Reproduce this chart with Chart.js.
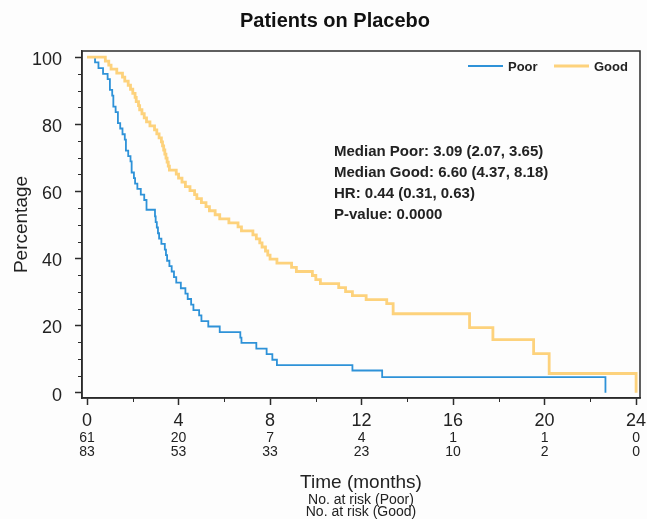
<!DOCTYPE html>
<html>
<head>
<meta charset="utf-8">
<title>Patients on Placebo</title>
<script src="https://cdn.jsdelivr.net/npm/chart.js@4.4.1/dist/chart.umd.min.js"></script>
<style>
  body { margin: 0; background: #fdfdfd; }
  #km { display: block; }
</style>
</head>
<body>
<canvas id="km" width="647" height="519"></canvas>
<script>
// Kaplan-Meier steps: time (months) of each drop, percentage after it
const poorTime = [0, 0.35, 0.5, 0.7, 0.9, 1.0, 1.1, 1.15, 1.25, 1.35, 1.45, 1.55, 1.65, 1.7, 1.8, 1.9, 1.95, 2.05, 2.1, 2.2, 2.35, 2.5, 2.6, 2.97, 3.0, 3.05, 3.1, 3.15, 3.25, 3.4, 3.45, 3.5, 3.6, 3.7, 3.8, 3.9, 4.1, 4.3, 4.4, 4.55, 4.65, 4.9, 5.0, 5.3, 5.8, 6.7, 6.75, 7.4, 7.85, 8.1, 8.3, 11.6, 12.9, 22.66];
const poorSurv = [100, 98.4, 96.7, 95, 93.4, 90.2, 88.5, 85.2, 83.6, 80.3, 78.7, 77, 75.4, 72.1, 70.5, 68.9, 65.6, 63.9, 62.3, 60.7, 59, 57.4, 54.5, 52.5, 50.8, 49.2, 47.5, 45.9, 44.3, 42.6, 41, 39.3, 37.7, 36.1, 34.4, 32.8, 31.1, 29.5, 27.9, 26.2, 24.6, 23, 21.3, 19.7, 18, 16.4, 14.8, 13.1, 11.5, 9.8, 8.2, 6.6, 4.6, 0];

const goodTime = [0, 0.8, 0.95, 1.05, 1.3, 1.55, 1.65, 1.8, 1.9, 2.0, 2.1, 2.15, 2.25, 2.3, 2.4, 2.5, 2.6, 2.75, 2.95, 3.05, 3.15, 3.25, 3.3, 3.35, 3.4, 3.45, 3.5, 3.55, 3.6, 3.9, 4.0, 4.15, 4.3, 4.5, 4.7, 4.8, 5.0, 5.2, 5.35, 5.6, 5.8, 6.2, 6.6, 6.75, 7.25, 7.4, 7.55, 7.65, 7.8, 7.9, 8.0, 8.3, 8.94, 9.15, 9.85, 10.0, 10.2, 11.0, 11.3, 11.6, 12.2, 13.1, 13.38, 16.72, 17.74, 19.52, 20.2, 24.0];
const goodSurv = [100, 98.8, 97.6, 96.4, 95.2, 94, 92.8, 91.6, 90.4, 89.2, 88, 86.7, 85.5, 84.3, 83.1, 81.9, 80.7, 79.5, 78.3, 77.1, 75.9, 74.7, 73.5, 72.3, 71.1, 69.9, 68.7, 67.5, 66.3, 65.1, 63.9, 62.7, 61.4, 60.2, 59, 57.8, 56.6, 55.4, 54.2, 53, 51.8, 50.6, 49.4, 48.2, 47, 45.8, 44.6, 43.4, 42.2, 41, 39.8, 38.6, 37.3, 36.1, 34.9, 33.7, 32.5, 31.3, 30.1, 28.9, 27.7, 26.5, 23.5, 19.4, 15.8, 11.6, 5.7, 0];

const seriesNames = ["Poor", "Good"];
const xTicks = [0, 4, 8, 12, 16, 20, 24];
const xMinor = [2, 6, 10, 14, 18, 22];
const yMinor = [5, 10, 15, 25, 30, 35, 45, 50, 55, 65, 70, 75, 85, 90, 95];
const poorRisk = [61, 20, 7, 4, 1, 1, 0];
const goodRisk = [83, 53, 33, 23, 10, 2, 0];
const statsLines = [
  "Median Poor: 3.09 (2.07, 3.65)",
  "Median Good: 6.60 (4.37, 8.18)",
  "HR: 0.44 (0.31, 0.63)",
  "P-value: 0.0000"
];

const FONT = "'Liberation Sans', Arial, sans-serif";
const INK = "#222";
const AXIS = "#2b2b2b";
const BLUE = "#2e92d8";
const YELLOW = "#fdd27c";

function toPoints(times, values) {
  return times.map(function (t, i) { return { x: t, y: values[i] }; });
}

const kmExtras = {
  id: "kmExtras",
  afterDraw(chart) {
    const ctx = chart.ctx;
    const area = chart.chartArea;
    const xs = chart.scales.x;
    const ys = chart.scales.y;
    ctx.save();

    // box round the plot
    ctx.strokeStyle = AXIS;
    ctx.lineWidth = 1.5;
    ctx.strokeRect(area.left, area.top, area.right - area.left, area.bottom - area.top);

    // minor ticks
    ctx.lineWidth = 1;
    ctx.beginPath();
    xMinor.forEach(function (v) {
      const px = Math.round(xs.getPixelForValue(v)) + 0.5;
      ctx.moveTo(px, area.bottom);
      ctx.lineTo(px, area.bottom + 4);
    });
    yMinor.forEach(function (v) {
      const py = Math.round(ys.getPixelForValue(v)) + 0.5;
      ctx.moveTo(area.left - 4, py);
      ctx.lineTo(area.left, py);
    });
    ctx.stroke();

    // numbers at risk under the ticks
    ctx.fillStyle = INK;
    ctx.font = "14px " + FONT;
    ctx.textAlign = "center";
    ctx.textBaseline = "middle";
    xTicks.forEach(function (t, i) {
      const px = xs.getPixelForValue(t);
      ctx.fillText(String(poorRisk[i]), px, area.bottom + 40);
      ctx.fillText(String(goodRisk[i]), px, area.bottom + 54);
    });
    const mid = (area.left + area.right) / 2;
    ctx.fillText("No. at risk (" + seriesNames[0] + ")", mid, area.bottom + 102);
    ctx.fillText("No. at risk (" + seriesNames[1] + ")", mid, area.bottom + 114.5);

    // legend, top right inside the box
    ctx.font = "bold 13px " + FONT;
    ctx.textAlign = "left";
    const ly = area.top + 15;
    const colors = [BLUE, YELLOW];
    const lx = [area.right - 172, area.right - 86];
    seriesNames.forEach(function (name, i) {
      ctx.strokeStyle = colors[i];
      ctx.lineWidth = i === 0 ? 1.8 : 2.8;
      ctx.beginPath();
      ctx.moveTo(lx[i], ly);
      ctx.lineTo(lx[i] + 35, ly);
      ctx.stroke();
      ctx.fillStyle = INK;
      ctx.fillText(name, lx[i] + 40, ly + 1);
    });

    // summary statistics
    ctx.font = "bold 15px " + FONT;
    statsLines.forEach(function (line, i) {
      ctx.fillText(line, area.left + 252, area.top + 101 + i * 21);
    });

    ctx.restore();
  }
};

const ctx = document.getElementById("km").getContext("2d");
const myChart = new Chart(ctx, {
  type: "line",
  data: {
    datasets: [
      {
        label: seriesNames[0],
        data: toPoints(poorTime, poorSurv),
        borderColor: BLUE,
        borderWidth: 1.8,
        stepped: true,
        pointRadius: 0,
        fill: false,
        order: 1
      },
      {
        label: seriesNames[1],
        data: toPoints(goodTime, goodSurv),
        borderColor: YELLOW,
        borderWidth: 2.8,
        stepped: true,
        pointRadius: 0,
        fill: false,
        order: 0
      }
    ]
  },
  options: {
    responsive: false,
    animation: false,
    devicePixelRatio: 1,
    layout: { padding: { left: 30, right: 7, top: 0, bottom: 0 } },
    plugins: {
      legend: { display: false },
      tooltip: { enabled: false },
      title: {
        display: true,
        text: "Patients on Placebo",
        color: "#111",
        font: { family: FONT, size: 20, weight: "bold", lineHeight: 1.2 },
        padding: { top: 9, bottom: 18 }
      }
    },
    scales: {
      x: {
        type: "linear",
        min: -0.22,
        max: 24.17,
        ticks: {
          stepSize: 4,
          includeBounds: false,
          color: INK,
          font: { family: FONT, size: 18 },
          padding: 5,
          maxRotation: 0
        },
        grid: { drawOnChartArea: false, tickLength: 7, tickColor: AXIS, tickWidth: 1.5 },
        border: { color: AXIS, width: 1.5 },
        title: {
          display: true,
          text: "Time (months)",
          color: INK,
          font: { family: FONT, size: 19 },
          padding: { top: 0, bottom: 25 }
        },
        afterFit: function (scale) {
          scale.height = 121;
          scale.paddingLeft = 0;
          scale.paddingRight = 0;
        }
      },
      y: {
        min: -1.6,
        max: 101.8,
        ticks: {
          stepSize: 20,
          includeBounds: false,
          color: INK,
          font: { family: FONT, size: 18 },
          padding: 13,
          labelOffset: 3
        },
        grid: { drawOnChartArea: false, tickLength: 7, tickColor: AXIS, tickWidth: 1.5 },
        border: { color: AXIS, width: 1.5 },
        title: {
          display: true,
          text: "Percentage",
          color: INK,
          font: { family: FONT, size: 19 },
          padding: { top: -20, bottom: 0 }
        },
        afterFit: function (scale) {
          scale.width = 52;
          scale.paddingTop = 0;
          scale.paddingBottom = 0;
        }
      }
    }
  },
  plugins: [kmExtras]
});
</script>
</body>
</html>
